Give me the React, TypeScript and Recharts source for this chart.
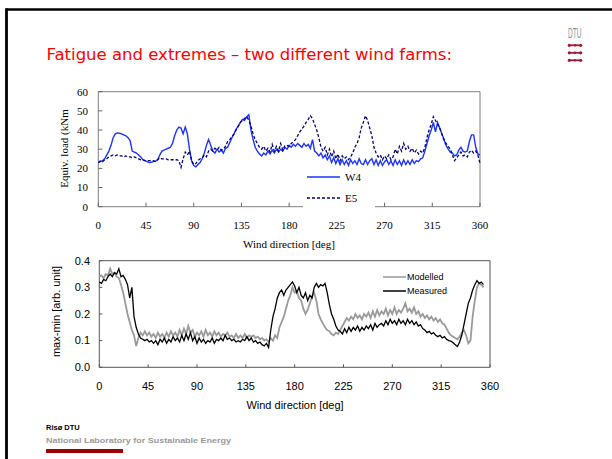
import React from "react";
import { LineChart, Line, XAxis, YAxis, ReferenceArea, Legend } from "recharts";

// sampling step of all series [deg]
const STEP = 2;

// top panel: equivalent load [kNm], 0..360 deg
const w4Load = [
  23, 23.5, 24, 25, 27, 29, 32, 36, 38, 38.5,
  38.3, 38, 37.5, 37, 36, 34.5, 29, 28.5, 28, 27,
  26, 24.5, 24, 23.5, 23, 23.2, 23.5, 23.8, 24.5, 27,
  29, 29.5, 30, 30.5, 31, 33, 37, 40, 41.5, 41,
  38, 41.5, 38, 30, 24, 21.5, 20.8, 22, 23, 25,
  28, 32, 35, 32, 29, 28, 30, 28.5, 29.5, 28,
  30.5, 31, 33.5, 36, 38, 40.5, 42, 44, 45.5, 45,
  47, 48, 40, 35, 31, 29, 27.5, 26.5, 28, 27,
  29, 27.5, 29.5, 28, 30, 28.5, 30, 29, 31, 30,
  32, 31, 32.5, 31.5, 33, 32, 31, 33, 31.5, 32.5,
  30.5, 35, 29, 28, 26.5, 28, 25.5, 27, 24.5, 26.5,
  23, 25.5, 22.5, 25, 22, 24.5, 22, 24, 21.5, 24.5,
  22.5, 24, 22, 25, 22.5, 22, 24.5, 22, 24, 25,
  22, 24.5, 21.5, 24, 21.5, 23.5, 24.5, 22, 24, 21.5,
  24.5, 22, 24, 21.5, 24.5, 22, 24, 22, 24.5, 22.5,
  24, 23.5, 25, 25.5, 29, 33, 37, 40, 44, 39,
  44, 41, 38, 35, 32, 30, 28.5, 28, 26.5, 27,
  29.5, 31, 29, 28.5, 29, 34, 37.5, 37.5, 31, 27.5,
  27,
];
const e5Load = [
  23, 24, 23.5, 24.5, 25, 26, 26.5, 27, 26.5, 27,
  26.5, 26.5, 26, 26.5, 26, 26, 25.5, 26, 25.5, 25,
  24.5, 24.5, 24, 24, 24, 23.8, 24, 23.5, 24.5, 25.5,
  25, 25, 25, 24.5, 24.5, 24.5, 24.5, 24.5, 24, 20.5,
  25, 28.5, 27, 29, 24, 22, 22.5, 24, 25, 25.5,
  27, 26, 29, 30, 29, 30.5, 29.5, 31, 29.5, 30,
  31.5, 34, 35, 36.5, 38, 40, 42, 44, 45, 46,
  47, 45, 42, 38, 35, 33, 31, 30, 31.5, 29,
  30.5, 28.5, 32.5, 29, 31.5, 29, 33, 29.5, 32, 32,
  31.5, 33, 34, 35, 37, 39, 40.5, 42, 44, 45.5,
  47.5, 46, 43, 40, 36, 31, 29, 31, 27, 30,
  26, 29, 25, 27.5, 24, 26.5, 25, 26, 24.5, 26,
  28, 31, 33, 36, 41, 44, 47.5, 45, 41, 37,
  31, 28, 26, 27, 24.5, 26.5, 25, 27, 24.5, 26,
  30, 27.5, 31.5, 29, 33, 30, 31.5, 29, 30.5, 28,
  29.5, 27.5, 29, 28, 31, 36, 40, 43, 47, 45,
  43, 41, 38, 35, 33, 31.5, 30, 27, 24, 25.5,
  27, 28.5, 26.5, 27, 26, 28.5, 29.5, 28, 29, 27,
  22.5,
];

// bottom panel: max-min [arb. unit], 0..354 deg
const measured = [
  0.32, 0.315, 0.33, 0.325, 0.34, 0.35, 0.34, 0.355, 0.35, 0.37,
  0.34, 0.345, 0.33, 0.31, 0.26, 0.3, 0.19, 0.15, 0.125, 0.11,
  0.105, 0.1, 0.105, 0.095, 0.1, 0.09, 0.1, 0.085, 0.105, 0.095,
  0.11, 0.09, 0.105, 0.095, 0.115, 0.1, 0.11, 0.095, 0.12, 0.1,
  0.125, 0.105, 0.13, 0.1, 0.115, 0.09, 0.11, 0.095, 0.105, 0.09,
  0.1, 0.095, 0.11, 0.09, 0.105, 0.1, 0.11, 0.1, 0.12, 0.105,
  0.11, 0.1, 0.105, 0.095, 0.1, 0.095, 0.105, 0.1, 0.115, 0.1,
  0.11, 0.095, 0.1, 0.09, 0.095, 0.085, 0.08, 0.09, 0.075, 0.14,
  0.19, 0.22, 0.26, 0.28, 0.29, 0.27, 0.29, 0.3, 0.31, 0.32,
  0.305, 0.28, 0.3, 0.27, 0.26, 0.28, 0.25, 0.27, 0.26, 0.3,
  0.315, 0.3, 0.31, 0.305, 0.315, 0.28, 0.235, 0.2, 0.18, 0.155,
  0.14, 0.135, 0.125, 0.145, 0.13, 0.15, 0.135, 0.15, 0.14, 0.155,
  0.135, 0.15, 0.14, 0.155, 0.145, 0.16, 0.14, 0.165, 0.15, 0.16,
  0.165, 0.155, 0.175, 0.16, 0.18, 0.165, 0.175, 0.16, 0.18, 0.165,
  0.175, 0.16, 0.18, 0.165, 0.175, 0.16, 0.17, 0.155, 0.16, 0.145,
  0.14, 0.13, 0.135, 0.125, 0.13, 0.12, 0.115, 0.12, 0.11, 0.115,
  0.105, 0.1, 0.098, 0.092, 0.085, 0.078, 0.095, 0.12, 0.16, 0.2,
  0.24, 0.26, 0.29, 0.31, 0.325, 0.315, 0.32, 0.31,
];
const modelled = [
  0.34, 0.345, 0.335, 0.35, 0.345, 0.37, 0.35, 0.355, 0.34, 0.335,
  0.31, 0.28, 0.24, 0.2, 0.17, 0.14, 0.12, 0.08, 0.11, 0.13,
  0.12, 0.135, 0.12, 0.13, 0.115, 0.125, 0.11, 0.13, 0.115, 0.125,
  0.11, 0.13, 0.115, 0.135, 0.12, 0.13, 0.115, 0.14, 0.12, 0.145,
  0.125, 0.155, 0.13, 0.14, 0.115, 0.13, 0.12, 0.135, 0.115, 0.14,
  0.12, 0.13, 0.115, 0.135, 0.12, 0.13, 0.115, 0.125, 0.12, 0.13,
  0.115, 0.12, 0.11, 0.125, 0.11, 0.12, 0.11, 0.125, 0.11, 0.12,
  0.115, 0.12, 0.11, 0.115, 0.105, 0.11, 0.1, 0.105, 0.095, 0.11,
  0.1, 0.12, 0.11, 0.15, 0.17, 0.19, 0.22, 0.25, 0.27, 0.3,
  0.28, 0.285, 0.26, 0.25, 0.22, 0.2, 0.215, 0.24, 0.265, 0.28,
  0.25, 0.2, 0.18, 0.165, 0.15, 0.14, 0.135, 0.125, 0.12, 0.13,
  0.125, 0.14, 0.155, 0.17, 0.185, 0.175, 0.19, 0.18, 0.2, 0.185,
  0.195, 0.18, 0.2, 0.19, 0.205, 0.185, 0.21, 0.19, 0.215, 0.195,
  0.21, 0.2, 0.22, 0.195, 0.215, 0.2, 0.225, 0.2, 0.215, 0.205,
  0.22, 0.24, 0.21, 0.22, 0.205, 0.225, 0.2, 0.21, 0.19, 0.2,
  0.185, 0.195, 0.18, 0.19, 0.175, 0.185, 0.17, 0.18, 0.165, 0.16,
  0.145, 0.13, 0.12, 0.115, 0.11, 0.105, 0.115, 0.13, 0.14, 0.12,
  0.09, 0.1, 0.19, 0.25, 0.3, 0.315, 0.31, 0.3,
];

const dirTicks = [0, 45, 90, 135, 180, 225, 270, 315, 360];
const loadTicks = [0, 10, 20, 30, 40, 50, 60];
const rangeTicks = [0, 0.1, 0.2, 0.3, 0.4];
const topOrder = ["W4", "E5"];
const bottomOrder = ["Modelled", "Measured"];

const topData = w4Load.map((v, i) => ({ dir: i * STEP, w4: v, e5: e5Load[i] }));
const bottomData = measured.map((v, i) => ({ dir: i * STEP, measured: v, modelled: modelled[i] }));

const serif = "'Liberation Serif', 'Times New Roman', serif";
const sans = "'Liberation Sans', Arial, sans-serif";

// inward ticks: axis tickSize/tickMargin are 0, so x/y are on the axis line
const xTick = (font: string, len: number, gap: number, color: string) => (p: any) => (
  <g>
    <line x1={p.x} y1={p.y} x2={p.x} y2={p.y - len} stroke={color} />
    <text x={p.x} y={p.y + gap} textAnchor="middle" fontFamily={font} fontSize={11} fill="#000">
      {p.payload.value}
    </text>
  </g>
);
const yTick = (font: string, len: number, gap: number, color: string, fmt: (v: number) => string) => (p: any) => (
  <g>
    <line x1={p.x} y1={p.y} x2={p.x + len} y2={p.y} stroke={color} />
    <text x={p.x - gap} y={p.y + 3.8} textAnchor="end" fontFamily={font} fontSize={11} fill="#000">
      {fmt(p.payload.value)}
    </text>
  </g>
);

const sortBy = (items: any[], order: string[]) =>
  [...(items ?? [])].sort((a, b) => order.indexOf(a.value) - order.indexOf(b.value));

const TopLegend = (props: any) => (
  <svg width={72} height={41} style={{ display: "block", background: "#fff" }}>
    {sortBy(props.payload, topOrder).map((it: any, i: number) => (
      <g key={it.value}>
        <line x1={4} x2={37} y1={9 + i * 21} y2={9 + i * 21} stroke={it.color} strokeWidth={1.3}
          strokeDasharray={it.payload?.strokeDasharray} />
        <text x={42} y={13 + i * 21} fontFamily={serif} fontSize={11} fill="#000">{it.value}</text>
      </g>
    ))}
  </svg>
);

const BottomLegend = (props: any) => (
  <svg width={80} height={30} style={{ display: "block" }}>
    {sortBy(props.payload, bottomOrder).map((it: any, i: number) => (
      <g key={it.value}>
        <line x1={3} x2={26} y1={7 + i * 14} y2={7 + i * 14} stroke={it.color} strokeWidth={1.5} />
        <text x={27} y={10.3 + i * 14} fontFamily={sans} fontSize={9} fill="#000">{it.value}</text>
      </g>
    ))}
  </svg>
);

function Slide() {
  return (
    <svg width={612} height={459} style={{ position: "absolute", left: 0, top: 0 }}>
      <line x1={6.5} y1={9.5} x2={612} y2={9.5} stroke="#000" strokeWidth={2.6} />
      <line x1={6.5} y1={8.2} x2={6.5} y2={459} stroke="#000" strokeWidth={2.8} />
      <text x={46.5} y={60} fontFamily="'DejaVu Sans', Verdana, sans-serif" fontSize={16.5} fill="#ff0000">
        Fatigue and extremes – two different wind farms:
      </text>
      <text x={568} y={38.3} fontFamily={sans} fontSize={14} fill="#8c8c8c" textLength={13.5}
        lengthAdjust="spacingAndGlyphs">DTU</text>
      {[45.3, 52.8, 60.3].map((y) => (
        <g key={y} fill="#a3193a" stroke="#a3193a">
          <line x1={569} x2={581} y1={y} y2={y} strokeWidth={1.8} />
          <circle cx={569.3} cy={y} r={1.6} stroke="none" />
          <circle cx={575} cy={y} r={1.3} stroke="none" />
          <circle cx={580.7} cy={y} r={1.6} stroke="none" />
        </g>
      ))}
      <text x={67.5} y={148.5} transform="rotate(-90 67.5 148.5)" textAnchor="middle" fontFamily={serif}
        fontSize={11}>Equiv. load (kNm</text>
      <text x={289} y={247.5} textAnchor="middle" fontFamily={serif} fontSize={11}>Wind direction [deg]</text>
      <text x={59.5} y={311.5} transform="rotate(-90 59.5 311.5)" textAnchor="middle" fontFamily={sans}
        fontSize={11}>max-min [arb. unit]</text>
      <text x={295} y={409} textAnchor="middle" fontFamily={sans} fontSize={11}>Wind direction [deg]</text>
      <text x={46} y={429.5} fontFamily={sans} fontWeight="bold" fontSize={7.5} fill="#000">Risø DTU</text>
      <text x={46} y={442.5} fontFamily={sans} fontWeight="bold" fontSize={8} fill="#9a9a9a" textLength={185}
        lengthAdjust="spacingAndGlyphs">National Laboratory for Sustainable Energy</text>
      <rect x={46} y={449} width={77} height={4} fill="#a00000" />
    </svg>
  );
}

export default function App() {
  return (
    <div style={{ position: "absolute", left: 0, top: 0, width: 612, height: 459, background: "#fff" }}>
      <Slide />
      <div style={{ position: "absolute", left: 0, top: 0 }}>
        <LineChart width={612} height={459} data={topData}
          margin={{ top: 91.7, right: 132, bottom: 222.3, left: 58.3 }}>
          <ReferenceArea x1={0} x2={360} y1={0} y2={60} fill="none" stroke="#808080" ifOverflow="visible" />
          <XAxis dataKey="dir" type="number" domain={[0, 360]} ticks={dirTicks} interval={0} height={30}
            axisLine={false} tickLine={false} tickSize={0} tickMargin={0} tick={xTick(serif, 4, 22, "#666")} />
          <YAxis type="number" domain={[0, 60]} ticks={loadTicks} interval={0} width={40} axisLine={false}
            tickLine={false} tickSize={0} tickMargin={0} tick={yTick(serif, 4, 10.3, "#666", (v) => String(v))} />
          <Line type="linear" dataKey="w4" name="W4" stroke="#1a33ff" strokeWidth={1.4} dot={false}
            isAnimationActive={false} />
          <Line type="linear" dataKey="e5" name="E5" stroke="#000080" strokeWidth={1.3} strokeDasharray="3 2"
            dot={false} isAnimationActive={false} />
          <Legend layout="vertical" align="center" verticalAlign="middle" content={TopLegend}
            wrapperStyle={{ left: 303, top: 168, width: 72, height: 41 }} />
        </LineChart>
      </div>
      <div style={{ position: "absolute", left: 0, top: 0 }}>
        <LineChart width={612} height={459} data={bottomData}
          margin={{ top: 260.7, right: 122, bottom: 61.7, left: 59.3 }}>
          <ReferenceArea x1={0} x2={360} y1={0} y2={0.4} fill="none" stroke="#555" ifOverflow="visible" />
          <XAxis dataKey="dir" type="number" domain={[0, 360]} ticks={dirTicks} interval={0} height={30}
            axisLine={false} tickLine={false} tickSize={0} tickMargin={0} tick={xTick(sans, 3, 22.7, "#555")} />
          <YAxis type="number" domain={[0, 0.4]} ticks={rangeTicks} interval={0} width={40} axisLine={false}
            tickLine={false} tickSize={0} tickMargin={0}
            tick={yTick(sans, 3, 9.3, "#555", (v) => v.toFixed(1))} />
          <Line type="linear" dataKey="modelled" name="Modelled" stroke="#9a9a9a" strokeWidth={1.8} dot={false}
            isAnimationActive={false} />
          <Line type="linear" dataKey="measured" name="Measured" stroke="#000" strokeWidth={1.3} dot={false}
            isAnimationActive={false} />
          <Legend layout="vertical" align="center" verticalAlign="middle" content={BottomLegend}
            wrapperStyle={{ left: 380, top: 270, width: 80, height: 30 }} />
        </LineChart>
      </div>
    </div>
  );
}
